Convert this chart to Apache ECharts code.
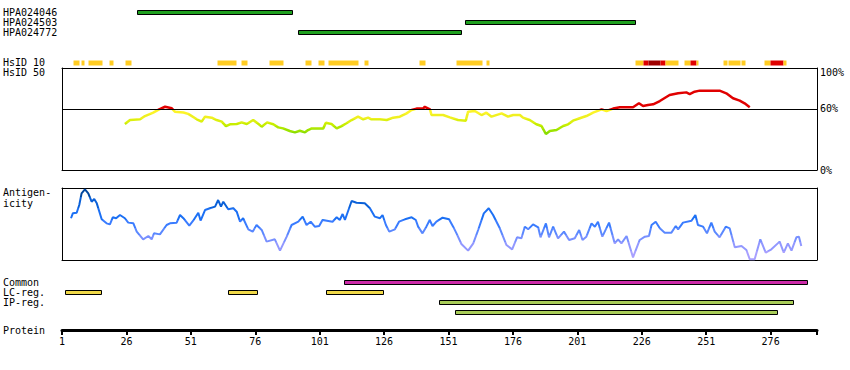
<!DOCTYPE html>
<html><head><meta charset="utf-8">
<script src="https://cdn.jsdelivr.net/npm/echarts@6/dist/echarts.min.js"></script>
<style>html,body{margin:0;padding:0;background:#fff}#c{width:850px;height:370px}</style>
</head><body><div id="c"></div>
<script>
const FONT = 'DejaVu Sans Mono';
const proteinLength = 294;
const tickValues = [1, 26, 51, 76, 101, 126, 151, 176, 201, 226, 251, 276];

const antibodyNames = ['HPA024046', 'HPA024503', 'HPA024772'];
const antibodyStart = [30.1, 157.5, 92.4];
const antibodyEnd = [90.3, 223.5, 155.7];

// HsID 10 segments; level 0 = gold, 1 = red, 2 = dark red
const hsid10Start = [5.3, 8.4, 11.1, 19.2, 25.4, 61.1, 70.4, 81.3, 95.3, 100.3, 104.2, 118.1, 139.5, 153.8, 165.5, 223.3, 226.4, 228.3, 233.0, 234.9, 242.3, 244.6, 246.9, 257.4, 259.3, 264.4, 273.3, 275.6, 280.7];
const hsid10End   = [7.6, 9.4, 16.5, 20.8, 27.8, 68.5, 72.8, 86.7, 97.6, 102.6, 115.8, 119.7, 141.8, 163.9, 166.6, 226.4, 228.3, 233.0, 234.9, 239.9, 244.6, 246.9, 247.7, 259.0, 264.0, 266.0, 275.6, 280.7, 281.8];
const hsid10Level = [0, 0, 0, 0, 0, 0, 0, 0, 0, 0, 0, 0, 0, 0, 0, 0, 1, 2, 1, 0, 0, 1, 0, 0, 0, 0, 0, 1, 0];

// HsID 50 similarity (%)
const simPos = [25.4, 27.4, 31.3, 33.2, 36.4, 38.7, 41.0, 43.6, 44.8, 48.1, 50.0, 53.3, 55.2, 56.5, 59.1, 61.0, 63.0, 64.6, 66.2, 68.8, 70.7, 72.7, 75.2, 76.9, 78.5, 80.6, 83.0, 84.9, 86.8, 89.4, 91.4, 93.3, 95.3, 96.5, 97.9, 102.4, 103.4, 105.6, 107.6, 109.5, 111.4, 113.4, 115.9, 117.9, 119.8, 121.1, 124.4, 127.0, 129.5, 132.1, 134.7, 136.7, 138.6, 141.2, 141.8, 143.8, 144.4, 148.9, 151.5, 154.7, 157.7, 158.6, 161.2, 163.8, 165.7, 167.7, 171.6, 174.1, 176.1, 178.7, 179.9, 182.5, 185.1, 187.1, 188.8, 190.3, 192.9, 195.5, 197.4, 199.3, 201.9, 204.5, 207.1, 210.4, 212.3, 214.9, 217.5, 222.6, 224.9, 226.5, 228.4, 230.4, 233.0, 236.8, 240.1, 243.3, 244.6, 246.5, 248.5, 256.2, 258.8, 261.4, 264.0, 265.9, 267.9];
const simVal = [45.1, 49.0, 49.7, 52.9, 56.2, 59.5, 62.0, 60.5, 57.2, 56.3, 55.0, 49.7, 47.4, 52.3, 51.3, 49.0, 47.4, 43.1, 44.8, 45.1, 46.7, 45.1, 49.0, 45.8, 42.5, 46.7, 44.8, 41.8, 40.8, 38.2, 36.9, 38.5, 36.9, 39.2, 40.8, 40.8, 46.4, 45.1, 40.8, 43.1, 45.8, 49.0, 52.3, 49.7, 51.3, 49.7, 49.7, 49.0, 51.3, 52.3, 55.5, 58.8, 60.2, 60.5, 62.0, 59.5, 53.9, 53.9, 51.6, 49.0, 48.4, 57.2, 57.8, 53.9, 56.2, 52.3, 55.5, 52.3, 53.9, 53.9, 51.3, 49.0, 44.8, 43.1, 35.3, 38.2, 39.2, 43.1, 44.8, 48.4, 50.7, 52.9, 56.2, 59.5, 57.8, 60.2, 61.5, 61.5, 65.4, 62.7, 63.7, 64.4, 67.6, 73.5, 75.2, 76.1, 74.5, 76.8, 77.8, 77.8, 75.2, 70.3, 68.0, 65.4, 61.5];

// Antigenicity score (relative, 0-100)
const antPos = [4.5, 5.2, 6.7, 7.7, 8.6, 9.9, 11.2, 12.5, 13.5, 14.5, 16.4, 18.3, 19.6, 20.7, 22.0, 23.5, 25.4, 26.7, 28.7, 30.0, 32.5, 34.5, 35.8, 36.7, 39.0, 41.6, 42.9, 45.5, 46.8, 48.1, 50.4, 51.9, 53.9, 54.8, 56.5, 58.4, 60.4, 61.6, 62.7, 63.6, 65.5, 67.5, 68.8, 70.1, 71.3, 73.3, 75.0, 76.5, 78.5, 80.4, 83.6, 85.6, 88.2, 90.1, 92.7, 94.4, 95.9, 97.5, 99.1, 100.8, 102.1, 106.0, 107.6, 108.8, 109.9, 110.8, 113.4, 115.3, 118.5, 120.5, 122.4, 124.4, 125.4, 126.7, 128.0, 130.2, 131.8, 134.1, 136.7, 138.3, 139.2, 140.9, 142.4, 143.7, 144.8, 146.3, 148.7, 151.2, 152.8, 154.1, 156.0, 158.6, 160.6, 162.5, 164.7, 166.6, 168.3, 170.9, 173.5, 175.7, 177.6, 179.3, 180.6, 181.9, 183.8, 185.8, 186.7, 188.8, 190.0, 191.6, 193.5, 195.8, 197.8, 200.0, 201.7, 203.0, 204.5, 206.5, 207.8, 209.0, 210.7, 213.3, 215.5, 216.8, 218.1, 220.1, 222.6, 225.2, 227.2, 228.8, 229.8, 231.4, 233.0, 234.9, 237.5, 239.2, 240.1, 242.0, 245.3, 246.8, 247.8, 249.8, 251.3, 253.0, 254.3, 256.2, 258.6, 260.1, 262.1, 264.7, 266.6, 267.9, 269.8, 272.0, 274.1, 276.3, 279.5, 281.1, 282.7, 284.1, 286.0, 287.0, 287.9];
const antVal = [58.0, 64.8, 65.7, 76.4, 92.6, 98.1, 92.6, 81.0, 84.7, 78.7, 56.5, 50.9, 49.5, 59.3, 58.0, 62.5, 58.0, 51.9, 50.9, 39.4, 28.7, 33.3, 28.7, 37.0, 35.6, 48.6, 50.9, 51.9, 62.5, 58.0, 47.7, 54.6, 65.7, 54.6, 69.4, 71.8, 74.1, 83.3, 74.1, 81.0, 70.4, 71.8, 67.1, 53.2, 58.0, 42.6, 39.4, 48.6, 41.7, 25.5, 28.7, 13.0, 32.4, 48.6, 53.2, 60.2, 48.6, 53.2, 46.3, 47.2, 55.6, 53.2, 59.3, 55.6, 63.9, 55.6, 81.9, 79.6, 78.7, 71.8, 60.2, 58.0, 62.5, 48.6, 39.4, 42.6, 53.2, 56.5, 59.3, 55.6, 46.3, 37.0, 46.3, 55.6, 47.2, 53.2, 58.8, 56.5, 46.3, 37.0, 22.2, 13.0, 23.1, 41.7, 64.8, 71.8, 62.5, 44.0, 20.8, 14.8, 31.5, 30.1, 46.3, 42.6, 49.5, 45.4, 31.5, 50.9, 31.5, 46.3, 30.1, 39.4, 27.8, 30.1, 41.7, 27.8, 32.4, 50.9, 46.3, 53.2, 32.4, 51.9, 23.1, 28.7, 23.1, 33.3, 3.7, 27.8, 32.4, 33.3, 48.6, 53.2, 44.0, 38.0, 38.0, 47.2, 42.6, 51.9, 54.6, 62.5, 48.6, 46.3, 37.0, 51.9, 39.4, 31.5, 46.3, 44.0, 17.6, 19.4, 13.9, 1.0, 1.0, 28.7, 10.2, 14.8, 25.5, 10.2, 23.1, 13.0, 31.5, 32.4, 19.4];

// Bottom feature tracks
const trackNames = ['Common', 'LC-reg.', 'IP-reg.', ''];
const featRow = [0, 1, 1, 1, 2, 3];
const featStart = [110.4, 2.2, 65.4, 103.4, 147.4, 153.5];
const featEnd = [289.9, 16.1, 76.5, 125.5, 284.8, 278.6];
const featType = [0, 1, 1, 1, 2, 2];

const featColors = ['#cc2aa8', '#f0d848', '#a8cc58'];
const hsidColors = ['#ffcc22', '#e00000', '#a00000'];

const chart = echarts.init(document.getElementById('c'), null, {renderer: 'svg'});

const L = 62, W = 755;
const txt = {fontFamily: FONT, fontSize: 10, color: '#000'};
const off = {show: false};
const blackLine = {show: true, onZero: false, lineStyle: {color: '#000', width: 1}};

function hiddenX(i) {
  return {gridIndex: i, type: 'value', min: 1, max: proteinLength, show: false};
}
// axis used only to draw one side of a plot frame
function frameX(i, pos) {
  return {gridIndex: i, type: 'value', min: 1, max: proteinLength, position: pos,
    axisLine: blackLine, axisTick: off, axisLabel: off, splitLine: off};
}
function frameY(i, pos) {
  return {gridIndex: i, type: 'value', min: 0, max: 100, position: pos,
    axisLine: blackLine, axisTick: off, axisLabel: off, splitLine: off};
}
function catY(i, names) {
  return {gridIndex: i, type: 'category', data: names, inverse: true,
    axisLine: off, axisTick: off, splitLine: off,
    axisLabel: Object.assign({align: 'left', margin: 59, interval: 0}, txt)};
}
function barRender(h, stroke, colors, colorDim) {
  return function (params, api) {
    const row = api.value(2);
    const s = api.coord([api.value(0), row]);
    const e = api.coord([api.value(1), row]);
    return {type: 'rect',
      shape: {x: Math.round(s[0]) + 0.5, y: Math.round(s[1] - h / 2) + 0.5, width: Math.round(e[0] - s[0]), height: h},
      style: {fill: colors[api.value(colorDim)], stroke: stroke ? '#000' : null, lineWidth: stroke ? 1 : 0}};
  };
}

const option = {
  animation: false,
  backgroundColor: '#fff',
  grid: [
    {left: L, width: W, top: 7, height: 30},
    {left: L, width: W, top: 57, height: 10},
    {left: L, width: W, top: 68, height: 102},
    {left: L, width: W, top: 188, height: 72},
    {left: L, width: W, top: 277, height: 40},
    {left: L, width: W, top: 320, height: 10}
  ],
  xAxis: [
    hiddenX(0), hiddenX(1), frameX(2, 'bottom'), frameX(3, 'bottom'), hiddenX(4),
    {gridIndex: 5, type: 'value', min: 1, max: proteinLength, position: 'bottom',
      axisLine: {show: true, onZero: false, lineStyle: {color: '#000', width: 3}},
      axisTick: {show: true, length: 5, lineStyle: {color: '#000', width: 2}, customValues: tickValues.concat([proteinLength])},
      axisLabel: Object.assign({customValues: tickValues, margin: 6}, txt),
      splitLine: off},
    frameX(2, 'top'), frameX(3, 'top')
  ],
  yAxis: [
    catY(0, antibodyNames),
    catY(1, ['HsID 10']),
    {gridIndex: 2, type: 'value', min: 0, max: 100, position: 'right',
      axisLine: blackLine, axisTick: off, splitLine: off,
      axisLabel: Object.assign({customValues: [0, 60, 100], margin: 3,
        formatter: v => v === 100 ? '{a|100%}' : v + '%',
        rich: {a: {fontFamily: FONT, fontSize: 10, color: '#000', padding: [8, 0, 0, 0]}}}, txt)},
    frameY(3, 'left'),
    catY(4, trackNames),
    {gridIndex: 5, type: 'value', show: false},
    frameY(2, 'left'), frameY(3, 'right')
  ],
  visualMap: [
    {type: 'piecewise', show: false, seriesIndex: 2, dimension: 1,
      pieces: [
        {gte: 60, color: '#e00000'},
        {gte: 55, lt: 60, color: '#fcf428'},
        {gte: 50, lt: 55, color: '#f0f020'},
        {gte: 46, lt: 50, color: '#dcf010'},
        {gte: 43, lt: 46, color: '#c8ee00'},
        {gte: 40, lt: 43, color: '#b0e800'},
        {gte: 37, lt: 40, color: '#9ce400'},
        {lt: 37, color: '#88dc00'}
      ]},
    {type: 'piecewise', show: false, seriesIndex: 3, dimension: 1,
      pieces: [
        {gte: 88, color: '#00469e'},
        {gte: 72, lt: 88, color: '#0a60d8'},
        {gte: 55, lt: 72, color: '#1c70f4'},
        {gte: 45, lt: 55, color: '#3a7cff'},
        {gte: 35, lt: 45, color: '#5a88ff'},
        {gte: 25, lt: 35, color: '#7890ff'},
        {gte: 12, lt: 25, color: '#9298ff'},
        {lt: 12, color: '#a8a0ff'}
      ]}
  ],
  series: [
    {type: 'custom', xAxisIndex: 0, yAxisIndex: 0,
      renderItem: barRender(4, true, ['#1fa01f'], 3),
      encode: {x: [0, 1], y: 2},
      data: antibodyNames.map((n, i) => [antibodyStart[i], antibodyEnd[i], i, 0])},
    {type: 'custom', xAxisIndex: 1, yAxisIndex: 1,
      renderItem: barRender(5, false, hsidColors, 3),
      encode: {x: [0, 1], y: 2},
      data: hsid10Start.map((s, i) => [s, hsid10End[i], 0, hsid10Level[i]])},
    {type: 'line', xAxisIndex: 2, yAxisIndex: 2, showSymbol: false, symbol: 'none',
      lineStyle: {width: 2.5},
      data: simPos.map((x, i) => [x, simVal[i]]),
      markLine: {silent: true, symbol: 'none', label: off,
        lineStyle: {color: '#000', width: 1, type: 'solid'}, data: [{yAxis: 60}]},
      z: 3},
    {type: 'line', xAxisIndex: 3, yAxisIndex: 3, showSymbol: false, symbol: 'none',
      lineStyle: {width: 2},
      data: antPos.map((x, i) => [x, antVal[i]])},
    {type: 'custom', xAxisIndex: 4, yAxisIndex: 4,
      renderItem: barRender(4, true, featColors, 3),
      encode: {x: [0, 1], y: 2},
      data: featStart.map((s, i) => [s, featEnd[i], featRow[i], featType[i]])}
  ],
  graphic: [
    {type: 'text', left: 3, top: 67, style: {text: 'HsID 50', fill: '#000', font: '10px ' + FONT}},
    {type: 'text', left: 3, top: 187, style: {text: 'Antigen-', fill: '#000', font: '10px ' + FONT}},
    {type: 'text', left: 3, top: 198, style: {text: 'icity', fill: '#000', font: '10px ' + FONT}},
    {type: 'text', left: 3, top: 325, style: {text: 'Protein', fill: '#000', font: '10px ' + FONT}}
  ]
};
chart.setOption(option);
</script>
</body></html>
